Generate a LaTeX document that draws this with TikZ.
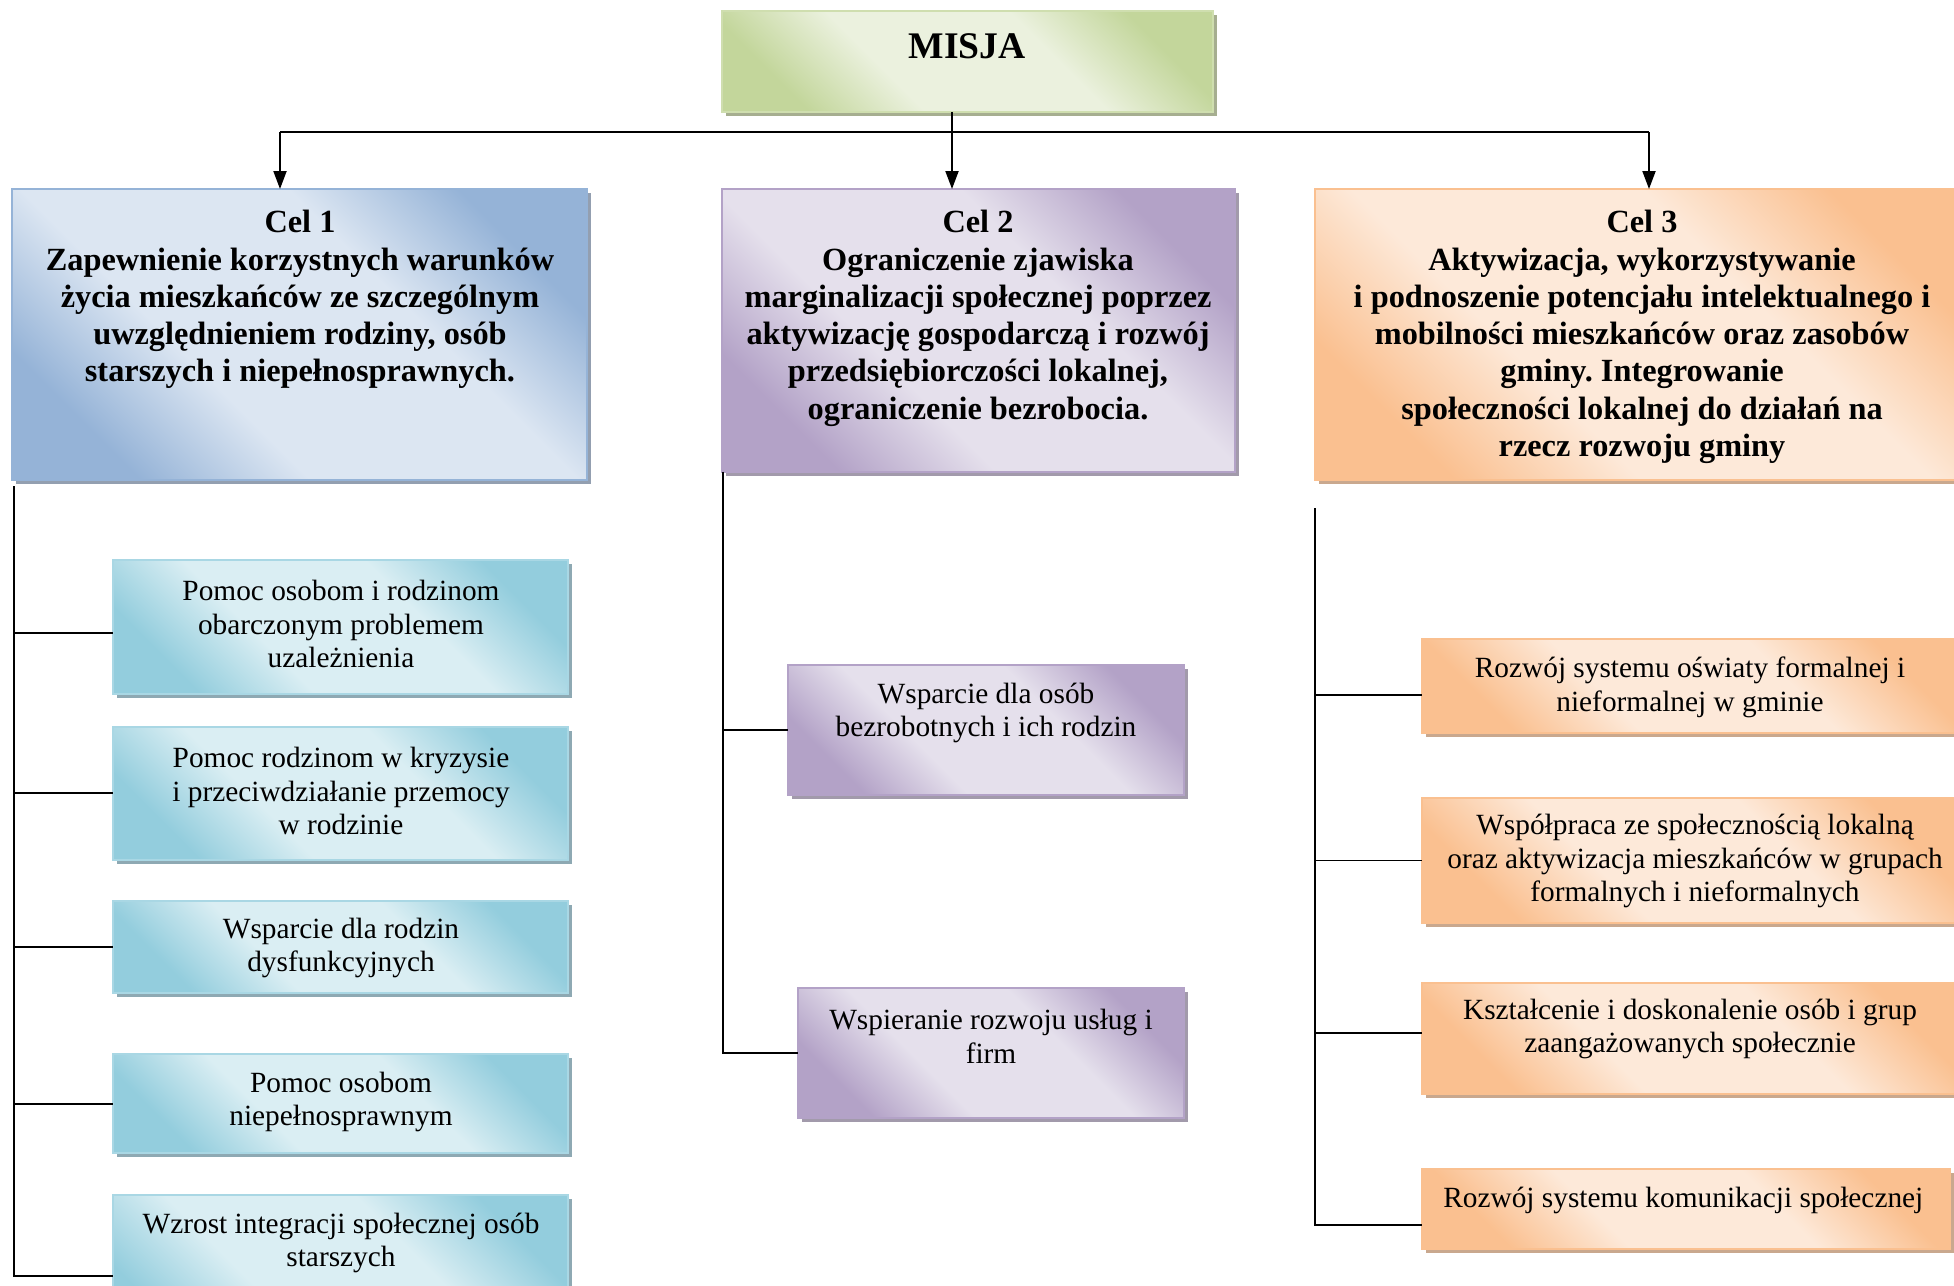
\documentclass[tikz,border=0pt]{standalone}
\usepackage{fontspec}
\setmainfont{Liberation Serif}
\frenchspacing
\usetikzlibrary{arrows.meta,shadows}
\definecolor{grnlt}{HTML}{EBF1DE}
\definecolor{grndk}{HTML}{C3D69B}
\definecolor{grnsh}{HTML}{A6AE90}
\definecolor{blult}{HTML}{DCE6F2}
\definecolor{bludk}{HTML}{95B3D7}
\definecolor{blush}{HTML}{939FB0}
\definecolor{purlt}{HTML}{E5E0EC}
\definecolor{purdk}{HTML}{B3A2C7}
\definecolor{pursh}{HTML}{A29AAB}
\definecolor{oralt}{HTML}{FDE9D9}
\definecolor{oradk}{HTML}{FAC090}
\definecolor{orash}{HTML}{C9A88E}
\definecolor{aqult}{HTML}{DAEEF3}
\definecolor{aqudk}{HTML}{93CDDD}
\definecolor{aqush}{HTML}{8EA9B3}
\makeatletter
\pgfdeclareverticalshading[tikz@axis@top,tikz@axis@middle,tikz@axis@bottom]{plateau}{100bp}{color(0bp)=(tikz@axis@bottom); color(25bp)=(tikz@axis@bottom); color(39bp)=(tikz@axis@middle); color(61bp)=(tikz@axis@middle); color(75bp)=(tikz@axis@top); color(100bp)=(tikz@axis@top)}
\makeatother

\begin{document}
\begin{tikzpicture}[x=0.02cm, y=-0.02cm,
	box/.style={rectangle, inner sep=0pt, outer sep=0pt, anchor=north west, line width=0.05cm},
	misjabox/.style={box, draw=grndk!80, top color=grndk, bottom color=grndk, middle color=grnlt, shading=plateau, shading angle=-45,
		drop shadow={shadow xshift=0.08cm, shadow yshift=-0.08cm, fill=grnsh, opacity=1}},
	blubox/.style={box, draw=bludk, top color=bludk, bottom color=bludk, middle color=blult, shading=plateau, shading angle=-45,
		drop shadow={shadow xshift=0.08cm, shadow yshift=-0.08cm, fill=blush, opacity=1}},
	purbox/.style={box, draw=purdk, top color=purdk, bottom color=purdk, middle color=purlt, shading=plateau, shading angle=-45,
		drop shadow={shadow xshift=0.08cm, shadow yshift=-0.08cm, fill=pursh, opacity=1}},
	orabox/.style={box, draw=oradk, top color=oradk, bottom color=oradk, middle color=oralt, shading=plateau, shading angle=-45,
		drop shadow={shadow xshift=0.08cm, shadow yshift=-0.08cm, fill=orash, opacity=1}},
	aqubox/.style={box, draw=aqudk!80, top color=aqudk, bottom color=aqudk, middle color=aqult, shading=plateau, shading angle=-45,
		drop shadow={shadow xshift=0.08cm, shadow yshift=-0.08cm, fill=aqush, opacity=1}},
	celtxt/.style={anchor=north, align=center, inner sep=0pt, font=\fontsize{18.4}{21.2}\selectfont\bfseries},
	subtxt/.style={align=center, inner sep=0pt, font=\fontsize{16.7}{19.2}\selectfont},
	conn/.style={line width=0.04cm},
	arr/.style={line width=0.04cm, -{Triangle[length=0.36cm, width=0.26cm]}}]
	
	\useasboundingbox (0,0) rectangle (1954,1285);
	
	%%%%% misja %%%%%
	\node[misjabox, minimum width=9.82cm, minimum height=2.02cm] (misja) at (722,11) {};
	\node[inner sep=0pt, font=\fontsize{21.4}{24}\selectfont\bfseries] (misjat) at (967,46) {MISJA};
	
	%%%%% cele %%%%%
	\node[blubox, minimum width=11.5cm, minimum height=5.82cm] (cel1) at (12,189) {};
	\node[purbox, minimum width=10.26cm, minimum height=5.66cm] (cel2) at (722,189) {};
	\node[orabox, minimum width=13.08cm, minimum height=5.82cm] (cel3) at (1315,189) {};
	
	\node[celtxt] (cel1t) at (300,210) {Cel 1\\Zapewnienie korzystnych warunków\\życia mieszkańców ze szczególnym\\uwzględnieniem rodziny, osób\\starszych i niepełnosprawnych.};
	\node[celtxt] (cel2t) at (978,210) {Cel 2\\Ograniczenie zjawiska\\marginalizacji społecznej poprzez\\aktywizację gospodarczą i rozwój\\przedsiębiorczości lokalnej,\\ograniczenie bezrobocia.};
	\node[celtxt] (cel3t) at (1642,210) {Cel 3\\Aktywizacja, wykorzystywanie\\i podnoszenie potencjału intelektualnego i\\mobilności mieszkańców oraz zasobów\\gminy. Integrowanie\\społeczności lokalnej do działań na\\rzecz rozwoju gminy};
	
	%%%%% arrows %%%%%
	\coordinate (a1) at (280,132);
	\coordinate (a2) at (952,132);
	\coordinate (a3) at (1649,132);
	\draw[line width=0.05cm] (a1) -- (a3);
	\draw[conn] (misja.south -| a2) -- (a2);
	\draw[arr] (a1) -- (a1 |- cel1.north);
	\draw[arr] (a2) -- (a2 |- cel2.north);
	\draw[arr] (a3) -- (a3 |- cel3.north);
	
	%%%%% cel 1 %%%%%
	\node[aqubox, minimum width=9.1cm, minimum height=2.68cm] (s11) at (113,560) {};
	\node[aqubox, minimum width=9.1cm, minimum height=2.66cm] (s12) at (113,727) {};
	\node[aqubox, minimum width=9.1cm, minimum height=1.84cm] (s13) at (113,901) {};
	\node[aqubox, minimum width=9.1cm, minimum height=1.98cm] (s14) at (113,1054) {};
	\node[aqubox, minimum width=9.1cm, minimum height=3.24cm] (s15) at (113,1195) {};
	
	\node[subtxt] (s11t) at (341,624) {Pomoc osobom i rodzinom\\obarczonym problemem\\uzależnienia};
	\node[subtxt] (s12t) at (341,791) {Pomoc rodzinom w kryzysie\\i przeciwdziałanie przemocy\\w rodzinie};
	\node[subtxt] (s13t) at (341,948) {Wsparcie dla rodzin\\dysfunkcyjnych};
	\node[subtxt] (s14t) at (341,1102) {Pomoc osobom\\niepełnosprawnym};
	\node[subtxt] (s15t) at (341,1243) {Wzrost integracji społecznej osób\\starszych};
	
	\coordinate (p1) at (14,486);
	\draw[conn] (p1) |- ([yshift=-0.12cm]s11.west);
	\draw[conn] (p1) |- (s12.west);
	\draw[conn] (p1) |- (s13.west);
	\draw[conn] (p1) |- (s14.west);
	\draw[conn] (p1) |- (s15.west);
	
	%%%%% cel 2 %%%%%
	\node[purbox, minimum width=7.92cm, minimum height=2.6cm] (s21) at (788,665) {};
	\node[purbox, minimum width=7.72cm, minimum height=2.6cm] (s22) at (798,988) {};
	
	\node[subtxt] (s21t) at (986,713) {Wsparcie dla osób\\bezrobotnych i ich rodzin};
	\node[subtxt] (s22t) at (991,1036) {Wspieranie rozwoju usług i\\firm};
	
	\coordinate (p2) at (723,472);
	\draw[conn] (p2) |- (s21.west);
	\draw[conn] (p2) |- (s22.west);
	
	%%%%% cel 3 %%%%%
	\node[orabox, minimum width=10.9cm, minimum height=1.88cm] (s31) at (1422,639) {};
	\node[orabox, minimum width=10.9cm, minimum height=2.5cm] (s32) at (1422,798) {};
	\node[orabox, minimum width=10.9cm, minimum height=2.22cm] (s33) at (1422,983) {};
	\node[orabox, minimum width=10.56cm, minimum height=1.6cm] (s34) at (1422,1169) {};
	
	\node[subtxt] (s31t) at (1690,687) {Rozwój systemu oświaty formalnej i\\nieformalnej w gminie};
	\node[subtxt] (s32t) at (1695,861) {Współpraca ze społecznością lokalną\\oraz aktywizacja mieszkańców w grupach\\formalnych i nieformalnych};
	\node[subtxt] (s33t) at (1690,1029) {Kształcenie i doskonalenie osób i grup\\zaangażowanych społecznie};
	\node[subtxt, anchor=west] (s34t) at (1443,1200) {Rozwój systemu komunikacji społecznej};
	
	\coordinate (p3) at (1315,508);
	\draw[conn] (p3) |- ([yshift=-0.18cm]s31.west);
	\draw[conn] (p3) |- (s32.west);
	\draw[conn] (p3) |- ([yshift=0.12cm]s33.west);
	\draw[conn] (p3) |- ([yshift=-0.32cm]s34.west);
	
\end{tikzpicture}
\end{document}
